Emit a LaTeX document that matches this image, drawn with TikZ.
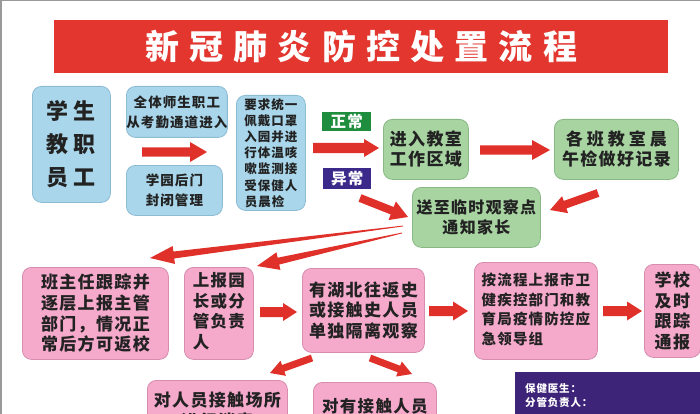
\documentclass[tikz,border=0pt]{standalone}
\usepackage{fontspec}
\usetikzlibrary{calc}
\newfontfamily\cjk{Noto Sans CJK SC}[LetterSpace=8]
\newfontfamily\cjkwide{Noto Sans CJK SC}[LetterSpace=30]
\definecolor{titlered}{HTML}{E2362F}
\definecolor{arrowred}{HTML}{E0302A}
\definecolor{bluefill}{HTML}{A9D6EA}
\definecolor{blueline}{HTML}{8CBCD4}
\definecolor{greenfill}{HTML}{A8D4A2}
\definecolor{greenline}{HTML}{88B884}
\definecolor{pinkfill}{HTML}{F5A9CB}
\definecolor{pinkline}{HTML}{D68DAE}
\definecolor{okgreen}{HTML}{1F8D3E}
\definecolor{badpurple}{HTML}{3C2A8A}
\definecolor{infopurple}{HTML}{3E2478}
\definecolor{txt}{HTML}{222222}
\newcommand{\fs}[2]{\fontsize{#1}{#2}\selectfont}
% \blockarrow{start}{end}{tail half}{body half}{head half}{head length}
\newcommand{\blockarrow}[6]{%
  \coordinate (ba-h) at ($(#2)!#6!(#1)$);
  \fill[arrowred]
    ($(#1)!#3!90:(#2)$) -- ($(ba-h)!#4!90:(#2)$) -- ($(ba-h)!#5!90:(#2)$) --
    (#2) --
    ($(ba-h)!#5!-90:(#2)$) -- ($(ba-h)!#4!-90:(#2)$) -- ($(#1)!#3!-90:(#2)$) -- cycle;}
\tikzset{
  box/.style={rounded corners=9pt, anchor=north west, inner sep=0pt, align=center,
    text=txt, line width=0.8pt},
  bluebox/.style={box, fill=bluefill, draw=blueline},
  greenbox/.style={box, fill=greenfill, draw=greenline},
  pinkbox/.style={box, fill=pinkfill, draw=pinkline},
  tag/.style={anchor=north west, inner sep=0pt},
  tagtext/.style={text=white, inner sep=0pt, font=\cjk\bfseries\fs{15.5}{17}},
}
\begin{document}
\begin{tikzpicture}[x=1pt,y=-1pt]
\useasboundingbox (0,0) rectangle (700,414);
\clip (0,0) rectangle (700,414);
\fill[white] (0,0) rectangle (700,414);
\draw[gray!80, line width=1.5pt] (0,0.75) -- (700,0.75);
\draw[gray!80, line width=1.5pt] (0.75,0) -- (0.75,414);
% title
\node[fill=titlered, anchor=north west, minimum width=614pt, minimum height=53pt, inner sep=0pt,
  text=white, font=\cjkwide\bfseries\fs{34}{36}] (title) at (54,20) {新冠肺炎防控处置流程};
% top row
\node[bluebox, minimum width=78pt, minimum height=116pt, font=\cjk\bfseries\fs{22}{33}] (staff) at (32,86)
  {学\hspace{5pt}生\\教\hspace{5pt}职\\员\hspace{5pt}工};
\node[bluebox, minimum width=96pt, minimum height=51pt, font=\cjk\bfseries\fs{13.5}{20}] (gate) at (126,86)
  {全体师生职工\\从考勤通道进入};
\node[bluebox, minimum width=96pt, minimum height=50pt, font=\cjk\bfseries\fs{13.5}{20}] (back) at (126,165)
  {学园后门\\封闭管理};
\node[bluebox, minimum width=69pt, minimum height=115pt, font=\cjk\bfseries\fs{12.5}{16.2}] (mask) at (236,95)
  {要求统一\\佩戴口罩\\入园并进\\行体温咳\\嗽监测接\\受保健人\\员晨检\hphantom{一}};
\node[tag, fill=okgreen, minimum width=49pt, minimum height=19pt] (ok) at (322,112) {};
\node[tagtext] (oktext) at (ok.center) {正常};
\node[tag, fill=badpurple, minimum width=48pt, minimum height=21pt] (bad) at (323,168) {};
\node[tagtext] (badtext) at (bad.center) {异常};
\node[greenbox, minimum width=85pt, minimum height=60pt, font=\cjk\bfseries\fs{17}{20}] (room) at (383,119)
  {进入教室\\工作区域};
\node[greenbox, minimum width=124pt, minimum height=60pt, font=\cjk\bfseries\fs{17}{20}] (check) at (554,119)
  {各\hspace{4pt}班\hspace{4pt}教\hspace{4pt}室\hspace{4pt}晨\\午检做好记录};
\node[greenbox, minimum width=128pt, minimum height=60pt, font=\cjk\bfseries\fs{16}{19.5}] (obs) at (412,187)
  {送至临时观察点\\通知家长};
% second row
\node[pinkbox, minimum width=146pt, minimum height=92pt, font=\cjk\bfseries\fs{17}{20.7}] (teacher) at (22,267)
  {班主任跟踪并\\逐层上报主管\\部门，情况正\\常后方可返校};
\node[pinkbox, minimum width=69pt, minimum height=92pt, font=\cjk\bfseries\fs{16.5}{20.7}] (report) at (184,267)
  {\begin{tabular}{@{}l@{}}上报园\\长或分\\管负责\\人\end{tabular}};
\node[pinkbox, minimum width=122pt, minimum height=84pt, font=\cjk\bfseries\fs{17}{20.7}] (hubei) at (302,268)
  {有湖北往返史\\或接触史人员\\单独隔离观察};
\node[pinkbox, minimum width=123pt, minimum height=97pt, font=\cjk\bfseries\fs{14.5}{19.5}] (city) at (474,262)
  {\begin{tabular}{@{}l@{}}按流程上报市卫\\健疾控部门和教\\育局疫情防控应\\急领导组\end{tabular}};
\node[pinkbox, minimum width=56pt, minimum height=93pt, font=\cjk\bfseries\fs{17}{20.7}] (school) at (644,264)
  {学校\\及时\\跟踪\\通报};
% third row (cut off at the bottom edge, as in the reference)
\node[pinkbox, minimum width=140pt, minimum height=60pt, font=\cjk\bfseries\fs{17}{21}] (disinfect) at (147,380)
  {对人员接触场所\\进行消毒};
\node[pinkbox, minimum width=123pt, minimum height=48pt, font=\cjk\bfseries\fs{16.5}{21}] (contact) at (313,382)
  {对有接触人员};
\node[fill=infopurple, anchor=north west, minimum width=185pt, minimum height=50pt, inner sep=0pt] (info) at (515,372) {};
\node[anchor=north west, inner sep=0pt, text=white, align=left, font=\cjk\bfseries\fs{10.5}{14}] (infotext) at (525,383)
  {保健医生：\\分管负责人：};
% arrows
\coordinate (a1s) at (142,152); \coordinate (a1e) at (207,152);
\blockarrow{a1s}{a1e}{4.5pt}{4.5pt}{10pt}{17pt}
\coordinate (a2s) at (313,148); \coordinate (a2e) at (379,148);
\blockarrow{a2s}{a2e}{5pt}{5pt}{9pt}{15pt}
\coordinate (a3s) at (480,150); \coordinate (a3e) at (550,150);
\blockarrow{a3s}{a3e}{4.5pt}{4.5pt}{10pt}{18pt}
\coordinate (a4s) at (598,193); \coordinate (a4e) at (550,210);
\blockarrow{a4s}{a4e}{4pt}{4pt}{9pt}{16pt}
\coordinate (a5s) at (360,198); \coordinate (a5e) at (408,217);
\blockarrow{a5s}{a5e}{4pt}{4pt}{10pt}{17pt}
\coordinate (a6s) at (403,226); \coordinate (a6e) at (150,258);
\blockarrow{a6s}{a6e}{0.4pt}{3.5pt}{9pt}{24pt}
\coordinate (a7s) at (402,233); \coordinate (a7e) at (257,266);
\blockarrow{a7s}{a7e}{0.4pt}{3.5pt}{9pt}{22pt}
\coordinate (a8s) at (260,312); \coordinate (a8e) at (297,312);
\blockarrow{a8s}{a8e}{5pt}{5pt}{9pt}{14pt}
\coordinate (a9s) at (429,311); \coordinate (a9e) at (468,311);
\blockarrow{a9s}{a9e}{5pt}{5pt}{9.5pt}{15pt}
\coordinate (a10s) at (603,311); \coordinate (a10e) at (642,311);
\blockarrow{a10s}{a10e}{5pt}{5pt}{9.5pt}{15pt}
\coordinate (a11s) at (312,358); \coordinate (a11e) at (270,373);
\blockarrow{a11s}{a11e}{3.5pt}{3.5pt}{8pt}{14pt}
\coordinate (a12s) at (370,358); \coordinate (a12e) at (412,374);
\blockarrow{a12s}{a12e}{3.5pt}{3.5pt}{8pt}{14pt}
\end{tikzpicture}
\end{document}
